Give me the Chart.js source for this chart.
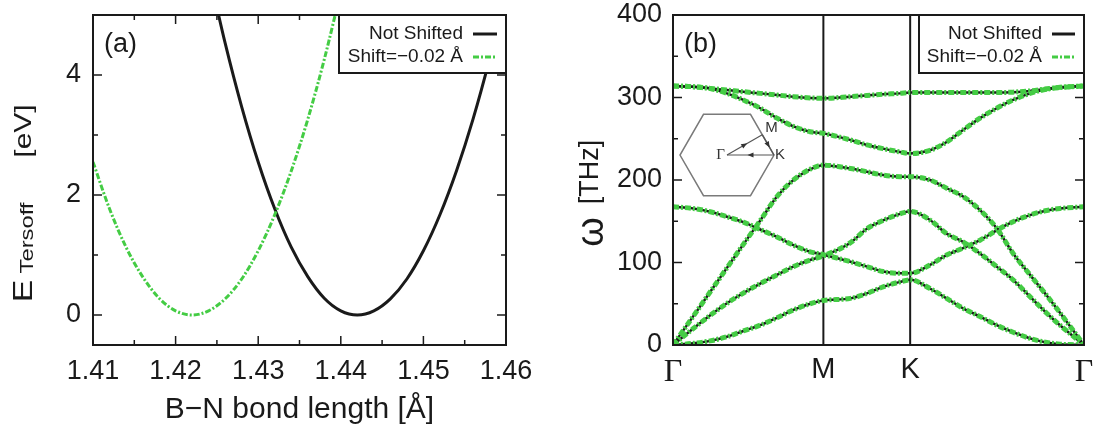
<!DOCTYPE html>
<html>
<head>
<meta charset="utf-8">
<script src="https://cdn.jsdelivr.net/npm/chart.js@4.4.0/dist/chart.umd.min.js"></script>
<style>
  html, body { margin: 0; padding: 0; background: #fff; }
  #wrap { position: relative; width: 1094px; height: 432px; }
  .panel { position: absolute; top: 0; height: 432px; }
  #panelA { left: 0; width: 540px; }
  #panelB { left: 540px; width: 554px; }
</style>
</head>
<body>
<div id="wrap">
  <div class="panel" id="panelA"><canvas id="chartA" width="540" height="432"></canvas></div>
  <div class="panel" id="panelB"><canvas id="chartB" width="554" height="432"></canvas></div>
</div>
<script>
// ---- panel (a): Tersoff energy vs bond length ----
const bondLength = [1.424, 1.426, 1.428, 1.430, 1.432, 1.434, 1.436, 1.438, 1.440, 1.442,
  1.444, 1.446, 1.448, 1.450, 1.452, 1.454, 1.456, 1.458, 1.460];
const energyNotShifted = [5.73, 4.53, 3.47, 2.55, 1.77, 1.13, 0.64, 0.28, 0.07, 0,
  0.07, 0.27, 0.60, 1.07, 1.67, 2.40, 3.26, 4.26, 5.39];
const bondLengthShifted = [1.410, 1.412, 1.414, 1.416, 1.418, 1.420, 1.422, 1.424,
  1.426, 1.428, 1.430, 1.432, 1.434, 1.436, 1.438, 1.440];
const energyShifted = [2.55, 1.77, 1.13, 0.64, 0.28, 0.07, 0, 0.07,
  0.27, 0.60, 1.07, 1.67, 2.40, 3.26, 4.26, 5.39];
const bondTicks = [1.41, 1.42, 1.43, 1.44, 1.45, 1.46];
const bondMinor = [1.415, 1.425, 1.435, 1.445, 1.455];
const energyTicks = [0, 2, 4];
const energyMinor = [1, 3];

// ---- panel (b): phonon dispersion along Γ-M-K-Γ ----
const qPath = [0, 0.078, 0.143, 0.207, 0.270, 0.335, 0.399, 0.462, 0.526, 0.577,
  0.681, 0.744, 0.806, 0.871, 0.910, 0.986, 1.050, 1.113, 1.178, 1.242,
  1.305, 1.370, 1.434, 1.485, 1.577];
const symPoints = [0, 0.577, 0.910, 1.577];
const symLabels = ['Γ', 'M', 'K', 'Γ'];
const freqTicks = [0, 100, 200, 300, 400];
const freqMinor = [50, 150, 250, 350];

const bandOpt1 = [314, 313, 311, 309, 307, 305, 303, 301, 299.5, 299,
  301, 302.5, 304, 305, 306, 306, 306, 306, 306, 306, 306.5, 308, 310.5, 312.5, 314];
const bandOpt2 = [314, 313, 311, 305, 297, 287, 275, 265, 258.5, 256.5,
  248.5, 242.5, 238, 234, 232, 236, 246, 260.5, 275, 287, 297, 305, 310, 312, 314];
const bandLA = [0, 35, 64.5, 93.5, 122, 151, 180, 200, 213, 218,
  214, 210, 206, 204, 204, 200, 190, 180, 163.5, 141.5, 111, 85, 60, 39, 0];
const bandZO = [167.5, 165.5, 161.5, 155.5, 149, 140, 131, 121, 113, 109.5,
  101, 95, 89, 87, 87, 97, 109, 117.5, 127, 139, 149.5, 157.5, 163, 165.5, 167.5];
const bandTA = [0, 20, 36, 50.5, 63, 74.5, 85, 95, 103, 108,
  124, 141, 151, 159, 162, 151.5, 135, 125, 111, 95, 79, 58.5, 38.5, 24, 0];
const bandZA = [0, 2, 5, 10, 17, 24, 33, 42.5, 50, 54,
  56.5, 62.5, 70.5, 76.5, 79, 68.5, 56.5, 44.5, 34.5, 24, 15.5, 8, 3, 1, 0];
const bands = [bandOpt1, bandOpt2, bandLA, bandZO, bandTA, bandZA];

const labelNotShifted = 'Not Shifted';
const labelShifted = 'Shift=\u22120.02 Å';

const SANS = "'Liberation Sans', Arial, sans-serif";
const SERIF = "'Liberation Serif', 'DejaVu Serif', serif";
const INK = '#1a1a1a';
const GREEN = '#44cc44';

// rotated y titles, one piece per font size
// c = centre along the axis (from plot top), b = baseline (from plot left)
const yTitleParts = {
  a: [
    { text: 'E', size: 27, c: 276, b: -61 },
    { text: 'Tersoff', size: 19, c: 223, b: -60 },
    { text: '[eV]', size: 24, c: 116, b: -62 }
  ],
  b: [
    { text: 'ω', size: 38, c: 217, b: -70 },
    { text: '[THz]', size: 27, c: 157, b: -75 }
  ]
};
const yTitleStretch = { a: 1.25, b: 1.0 };

function points(xs, ys) {
  return xs.map((x, i) => ({ x: x, y: ys[i] }));
}

// gnuplot style frame with inward ticks on all four sides
const framePlugin = {
  id: 'gnuFrame',
  beforeDatasetsDraw(chart, args, opts) {
    if (!opts.vLines) return;
    const { ctx, chartArea: a, scales: { x } } = chart;
    ctx.save();
    ctx.strokeStyle = INK;
    ctx.lineWidth = 2;
    opts.vLines.forEach(v => {
      const px = x.getPixelForValue(v);
      ctx.beginPath();
      ctx.moveTo(px, a.top);
      ctx.lineTo(px, a.bottom);
      ctx.stroke();
    });
    ctx.restore();
  },
  afterDatasetsDraw(chart, args, opts) {
    const { ctx, chartArea: a, scales: { x, y } } = chart;
    ctx.save();
    ctx.strokeStyle = INK;
    ctx.lineWidth = 1.5;
    const seg = (x1, y1, x2, y2) => {
      ctx.beginPath();
      ctx.moveTo(x1, y1);
      ctx.lineTo(x2, y2);
      ctx.stroke();
    };
    if (opts.xTicks) {
      x.ticks.forEach(t => {
        const px = x.getPixelForValue(t.value);
        seg(px, a.bottom, px, a.bottom - 9);
        seg(px, a.top, px, a.top + 9);
      });
      (opts.xMinor || []).forEach(v => {
        const px = x.getPixelForValue(v);
        seg(px, a.bottom, px, a.bottom - 5);
        seg(px, a.top, px, a.top + 5);
      });
    }
    y.ticks.forEach(t => {
      const py = y.getPixelForValue(t.value);
      seg(a.left, py, a.left + 9, py);
      seg(a.right, py, a.right - 9, py);
    });
    (opts.yMinor || []).forEach(v => {
      const py = y.getPixelForValue(v);
      seg(a.left, py, a.left + 5, py);
      seg(a.right, py, a.right - 5, py);
    });
    ctx.lineWidth = 2;
    ctx.strokeRect(a.left, a.top, a.width, a.height);
    ctx.restore();
  }
};

// axis titles, panel tag and the key box
const textPlugin = {
  id: 'gnuText',
  afterDraw(chart, args, opts) {
    const { ctx, chartArea: a } = chart;
    ctx.save();
    ctx.fillStyle = INK;

    // panel tag
    ctx.font = `27px ${SANS}`;
    ctx.textAlign = 'left';
    ctx.textBaseline = 'middle';
    ctx.fillText(opts.tag, a.left + 11, a.top + 30);

    // x title
    if (opts.xTitle) {
      ctx.font = `30px ${SANS}`;
      ctx.textAlign = 'center';
      ctx.fillText(opts.xTitle, (a.left + a.right) / 2, 410);
    }

    // rotated y title
    const parts = yTitleParts[opts.yTitle];
    const stretch = yTitleStretch[opts.yTitle];
    parts.forEach(p => {
      ctx.save();
      ctx.translate(a.left + p.b, a.top + p.c);
      ctx.rotate(-Math.PI / 2);
      ctx.scale(stretch, 1);
      ctx.font = `${p.size}px ${SANS}`;
      ctx.textAlign = 'center';
      ctx.textBaseline = 'alphabetic';
      ctx.fillText(p.text, 0, 0);
      ctx.restore();
    });

    // key box in the top right corner
    const k = opts.key;
    const left = a.right - k.width, top = a.top;
    ctx.fillStyle = '#fff';
    ctx.fillRect(left, top, k.width, 58);
    ctx.strokeStyle = INK;
    ctx.lineWidth = 2;
    ctx.strokeRect(left, top, k.width, 58);
    ctx.font = `19px ${SANS}`;
    ctx.textAlign = 'right';
    ctx.textBaseline = 'middle';
    k.items.forEach((idx, i) => {
      const ds = chart.data.datasets[idx];
      const cy = top + 19 + i * 23;
      ctx.fillStyle = INK;
      ctx.fillText(ds.label, a.right - k.textGap, cy);
      ctx.strokeStyle = ds.borderColor;
      ctx.lineWidth = 3;
      ctx.setLineDash(ds.borderDash || []);
      ctx.beginPath();
      ctx.moveTo(a.right - k.textGap + 10, cy);
      ctx.lineTo(a.right - 9, cy);
      ctx.stroke();
      ctx.setLineDash([]);
    });
    ctx.restore();
  }
};

// Brillouin zone sketch in panel (b)
const zonePlugin = {
  id: 'zoneInset',
  beforeDatasetsDraw(chart, args, opts) {
    if (!opts.show) return;
    const { ctx, chartArea: a } = chart;
    const cx = a.left + 54, cy = a.top + 140, R = 47;
    ctx.save();
    ctx.strokeStyle = '#7a7a7a';
    ctx.lineWidth = 1.5;
    ctx.beginPath();
    for (let i = 0; i < 6; i++) {
      const ang = i * Math.PI / 3;
      const px = cx + R * Math.cos(ang), py = cy - R * Math.sin(ang);
      if (i === 0) ctx.moveTo(px, py); else ctx.lineTo(px, py);
    }
    ctx.closePath();
    ctx.stroke();

    const G = [cx, cy];
    const M = [cx + 0.75 * R, cy - R * Math.sqrt(3) / 4];
    const K = [cx + R, cy];
    ctx.strokeStyle = '#555';
    ctx.fillStyle = '#333';
    ctx.lineWidth = 1.2;
    [[G, M], [M, K], [K, G]].forEach(([p, q]) => {
      ctx.beginPath();
      ctx.moveTo(p[0], p[1]);
      ctx.lineTo(q[0], q[1]);
      ctx.stroke();
      // small arrow head halfway
      const mx = (p[0] + q[0]) / 2, my = (p[1] + q[1]) / 2;
      const ang = Math.atan2(q[1] - p[1], q[0] - p[0]);
      ctx.save();
      ctx.translate(mx, my);
      ctx.rotate(ang);
      ctx.beginPath();
      ctx.moveTo(3, 0);
      ctx.lineTo(-3, -2.5);
      ctx.lineTo(-3, 2.5);
      ctx.closePath();
      ctx.fill();
      ctx.restore();
    });

    ctx.fillStyle = '#333';
    ctx.textBaseline = 'middle';
    ctx.font = `15px ${SERIF}`;
    ctx.textAlign = 'right';
    ctx.fillText('Γ', G[0] - 2, G[1]);
    ctx.font = `15px ${SANS}`;
    ctx.textAlign = 'left';
    ctx.fillText('M', M[0] + 3, M[1] - 7);
    ctx.fillText('K', K[0] + 1, K[1]);
    ctx.restore();
  }
};

Chart.register(framePlugin, textPlugin, zonePlugin);

const tickFont = { family: SANS, size: 27 };

// fixed axis boxes so the plot frame lands where the reference has it
function fixY(width) {
  return s => { s.width = width; s.paddingTop = 0; s.paddingBottom = 0; };
}
function fixX(height) {
  return s => { s.height = height; s.paddingLeft = 0; s.paddingRight = 0; };
}

// ---------- chart (a) ----------
new Chart(document.getElementById('chartA'), {
  type: 'line',
  data: {
    datasets: [
      {
        label: labelNotShifted,
        data: points(bondLength, energyNotShifted),
        borderColor: INK,
        borderWidth: 3,
        pointRadius: 0,
        cubicInterpolationMode: 'monotone',
        order: 1
      },
      {
        label: labelShifted,
        data: points(bondLengthShifted, energyShifted),
        borderColor: GREEN,
        borderWidth: 3,
        borderDash: [6, 2, 2, 2],
        pointRadius: 0,
        cubicInterpolationMode: 'monotone',
        order: 0
      }
    ]
  },
  options: {
    responsive: false,
    animation: false,
    layout: { padding: { top: 15, right: 34, left: 0, bottom: 0 } },
    scales: {
      x: {
        type: 'linear',
        min: 1.41,
        max: 1.46,
        afterBuildTicks: s => { s.ticks = bondTicks.map(v => ({ value: v })); },
        afterFit: fixX(87),
        grid: { display: false, drawTicks: false },
        border: { display: false },
        ticks: {
          font: tickFont, color: INK, padding: 10, maxRotation: 0, autoSkip: false,
          callback: v => v.toFixed(2)
        }
      },
      y: {
        min: -0.5,
        max: 5,
        afterBuildTicks: s => { s.ticks = energyTicks.map(v => ({ value: v })); },
        afterFit: fixY(93),
        grid: { display: false, drawTicks: false },
        border: { display: false },
        ticks: { font: tickFont, color: INK, padding: 12 }
      }
    },
    plugins: {
      legend: { display: false },
      tooltip: { enabled: false },
      gnuFrame: { xTicks: true, xMinor: bondMinor, yMinor: energyMinor },
      gnuText: {
        tag: '(a)',
        xTitle: 'B\u2212N bond length [Å]',
        yTitle: 'a',
        key: { width: 167, textGap: 43, items: [0, 1] }
      },
      zoneInset: { show: false }
    }
  }
});

// ---------- chart (b) ----------
const bandSets = [];
bands.forEach(b => {
  bandSets.push({
    label: labelNotShifted,
    data: points(qPath, b),
    borderColor: INK,
    borderWidth: 2.5,
    pointRadius: 0,
    cubicInterpolationMode: 'monotone',
    order: 1
  });
});
bands.forEach(b => {
  bandSets.push({
    label: labelShifted,
    data: points(qPath, b),
    borderColor: GREEN,
    borderWidth: 5,
    borderDash: [6, 2, 2, 2],
    pointRadius: 0,
    cubicInterpolationMode: 'monotone',
    order: 0
  });
});

new Chart(document.getElementById('chartB'), {
  type: 'line',
  data: { datasets: bandSets },
  options: {
    responsive: false,
    animation: false,
    layout: { padding: { top: 15, right: 10, left: 0, bottom: 0 } },
    scales: {
      x: {
        type: 'linear',
        min: symPoints[0],
        max: symPoints[symPoints.length - 1],
        afterBuildTicks: s => { s.ticks = symPoints.map(v => ({ value: v })); },
        afterFit: fixX(87),
        grid: { display: false, drawTicks: false },
        border: { display: false },
        ticks: {
          color: INK, padding: 8, maxRotation: 0, autoSkip: false,
          font: c => (symLabels[c.index] === 'Γ' ? { family: SERIF, size: 32 } : { family: SANS, size: 29 }),
          callback: (v, i) => symLabels[i]
        }
      },
      y: {
        min: 0,
        max: 400,
        afterBuildTicks: s => { s.ticks = freqTicks.map(v => ({ value: v })); },
        afterFit: fixY(133),
        grid: { display: false, drawTicks: false },
        border: { display: false },
        ticks: { font: tickFont, color: INK, padding: 11 }
      }
    },
    plugins: {
      legend: { display: false },
      tooltip: { enabled: false },
      gnuFrame: { xTicks: false, yMinor: freqMinor, vLines: [symPoints[1], symPoints[2]] },
      gnuText: {
        tag: '(b)',
        xTitle: null,
        yTitle: 'b',
        key: { width: 165, textGap: 42, items: [0, bands.length] }
      },
      zoneInset: { show: true }
    }
  }
});
</script>
</body>
</html>
